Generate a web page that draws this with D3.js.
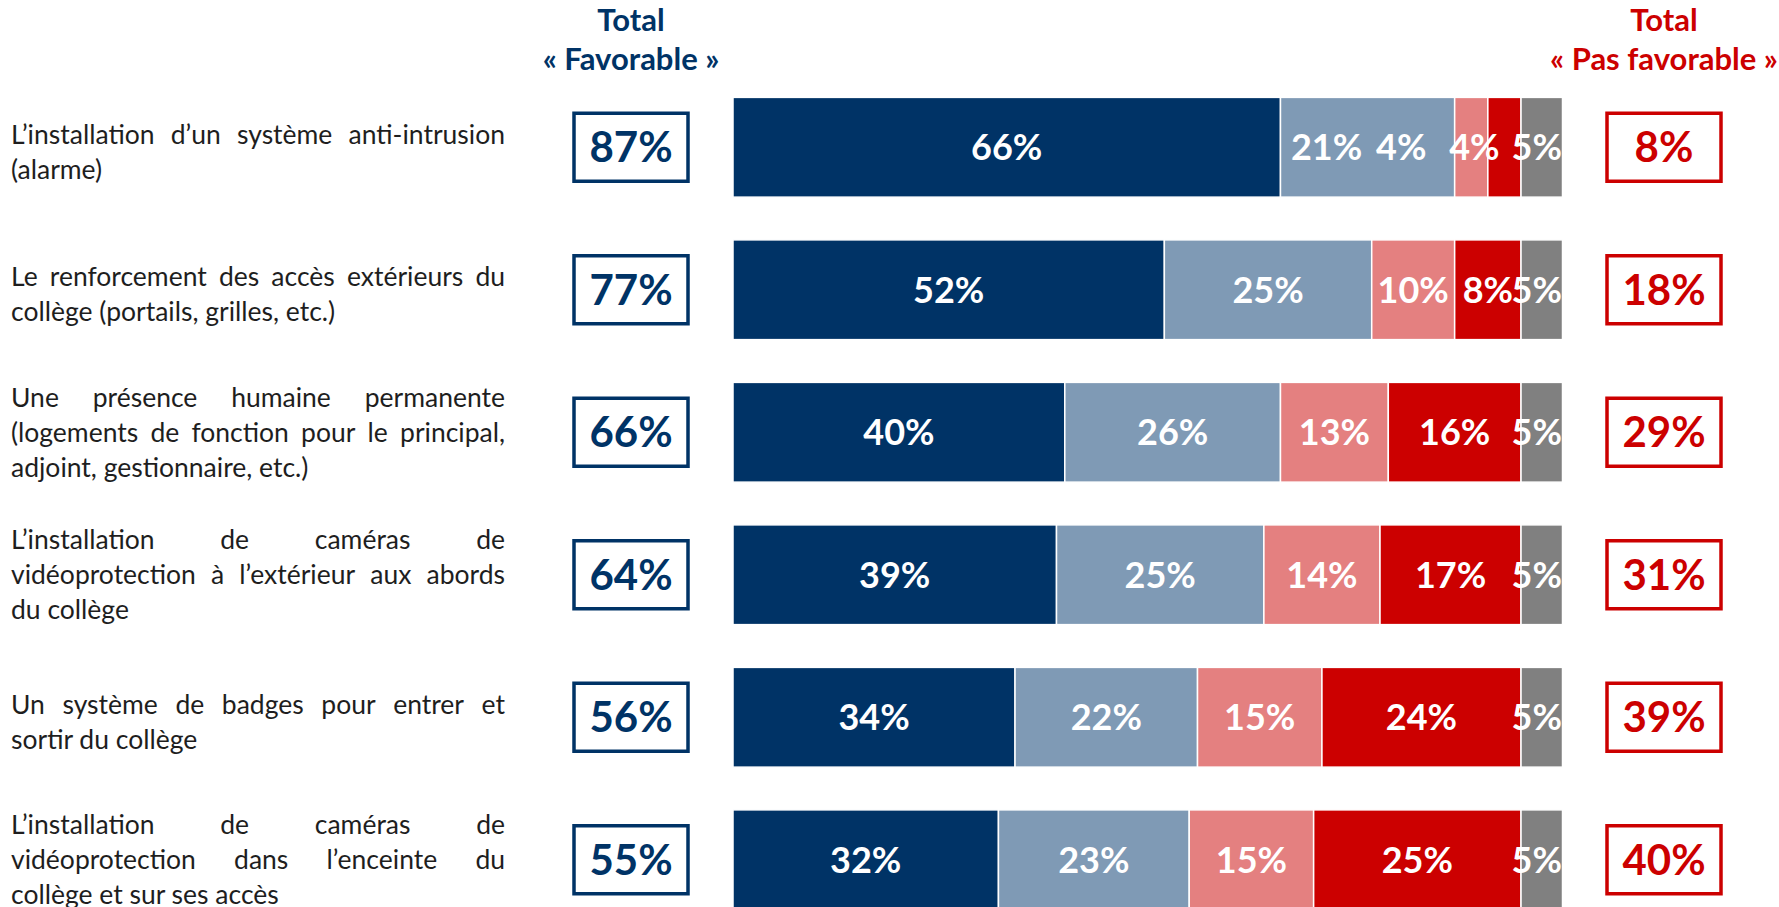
<!DOCTYPE html>
<html>
<head>
<meta charset="utf-8">
<script src="https://cdn.jsdelivr.net/npm/d3@7"></script>
<style>
  body { margin: 0; background: #fff; }
  svg { display: block; }
  text { font-family: Lato, "Open Sans", sans-serif; }
</style>
</head>
<body>
<div id="chart"></div>
<script>
// mesures proposées (lignes de libellé)
const items = [
    ["L’installation d’un système anti-intrusion", "(alarme)"],
    ["Le renforcement des accès extérieurs du", "collège (portails, grilles, etc.)"],
    ["Une présence humaine permanente", "(logements de fonction pour le principal,", "adjoint, gestionnaire, etc.)"],
    ["L’installation de caméras de", "vidéoprotection à l’extérieur aux abords", "du collège"],
    ["Un système de badges pour entrer et", "sortir du collège"],
    ["L’installation de caméras de", "vidéoprotection dans l’enceinte du", "collège et sur ses accès"]
];

const tresFavorable = [66, 52, 40, 39, 34, 32];
const plutotFavorable = [21, 25, 26, 25, 22, 23];
const plutotPasFavorable = [4, 10, 13, 14, 15, 15];
const pasDuToutFavorable = [4, 8, 16, 17, 24, 25];
const nsp = [5, 5, 5, 5, 5, 5];

const totalFavorable = [87, 77, 66, 64, 56, 55];
const totalPasFavorable = [8, 18, 29, 31, 39, 40];

const seriesColors = ["#003366", "#7f9ab5", "#e48080", "#cc0000", "#808080"];
const blue = "#003366", red = "#cc0000";

const width = 1779, height = 907;

const svg = d3.select("#chart").append("svg")
    .attr("width", width)
    .attr("height", height);

const x = d3.scaleLinear().domain([0, 100]).range([733, 1562.5]);
const y = d3.scaleBand()
    .domain(d3.range(items.length))
    .range([76, 76 + 6 * 142.5])
    .paddingInner(0.3)
    .paddingOuter(0.15);

const rows = items.map((lines, i) => ({
    i: i,
    lines: lines,
    values: [tresFavorable[i], plutotFavorable[i], plutotPasFavorable[i], pasDuToutFavorable[i], nsp[i]],
    fav: totalFavorable[i],
    pas: totalPasFavorable[i]
}));

// headers
const favX = 631, pasX = 1664;
[[favX, blue, "Total", "« Favorable »"], [pasX, red, "Total", "« Pas favorable »"]].forEach(h => {
    let t = svg.append("text")
        .attr("x", h[0])
        .attr("text-anchor", "middle")
        .attr("fill", h[1])
        .attr("font-weight", "bold")
        .attr("font-size", 31);
    t.append("tspan").attr("x", h[0]).attr("y", 31).text(h[2]);
    t.append("tspan").attr("x", h[0]).attr("y", 70).text(h[3]);
});

// stacked bars
const layoutShift = {"0-1": -41, "0-2": -70, "0-3": -30};

rows.forEach(r => {
    let g = svg.append("g").attr("class", "row");
    let cum = 0;
    let segs = r.values.map((v, k) => {
        let s = {k: k, v: v, x0: cum, x1: cum + v};
        cum += v;
        return s;
    });

    g.selectAll("rect")
        .data(segs)
        .join("rect")
        .attr("x", d => x(d.x0))
        .attr("y", y(r.i))
        .attr("width", d => x(d.x1) - x(d.x0))
        .attr("height", y.bandwidth())
        .attr("fill", d => seriesColors[d.k])
        .attr("stroke", "#fff")
        .attr("stroke-width", 1.5);

    g.selectAll("text.seg")
        .data(segs)
        .join("text")
        .attr("class", "seg")
        .attr("x", d => (x(d.x0) + x(d.x1)) / 2 + (layoutShift[r.i + "-" + d.k] || 0) + (d.k === 4 ? -5 : 0))
        .attr("y", y(r.i) + y.bandwidth() / 2)
        .attr("dy", "0.36em")
        .attr("text-anchor", "middle")
        .attr("fill", "#fff")
        .attr("font-weight", "bold")
        .attr("font-size", 36)
        .text(d => d.v + "%");

    // total boxes
    let cy = y(r.i) + y.bandwidth() / 2;
    [[favX, blue, r.fav], [pasX, red, r.pas]].forEach(b => {
        g.append("rect")
            .attr("x", b[0] - 57)
            .attr("y", cy - 34)
            .attr("width", 114)
            .attr("height", 68)
            .attr("fill", "#fff")
            .attr("stroke", b[1])
            .attr("stroke-width", 3.5);
        g.append("text")
            .attr("x", b[0])
            .attr("y", cy)
            .attr("dy", "0.36em")
            .attr("text-anchor", "middle")
            .attr("fill", b[1])
            .attr("font-weight", "bold")
            .attr("font-size", 42)
            .text(b[2] + "%");
    });

    // justified label
    let left = 11, right = 505, lh = 35, fs = 26.5;
    let n = r.lines.length;
    let top = cy - (n - 1) * lh / 2 + (n === 2 ? 4.5 : 0);
    r.lines.forEach((line, li) => {
        let ly = top + li * lh;
        if (li === n - 1) {
            g.append("text")
                .attr("x", left).attr("y", ly).attr("dy", "0.35em")
                .attr("font-size", fs).attr("fill", "#1e1e1e")
                .text(line);
            return;
        }
        let words = line.split(" ");
        let nodes = words.map(w => g.append("text")
            .attr("y", ly).attr("dy", "0.35em")
            .attr("font-size", fs).attr("fill", "#1e1e1e")
            .text(w));
        let widths = nodes.map(t => t.node().getComputedTextLength());
        let gap = (right - left - d3.sum(widths)) / (words.length - 1);
        let cx = left;
        nodes.forEach((t, k) => {
            t.attr("x", cx);
            cx += widths[k] + gap;
        });
    });
});
</script>
</body>
</html>
